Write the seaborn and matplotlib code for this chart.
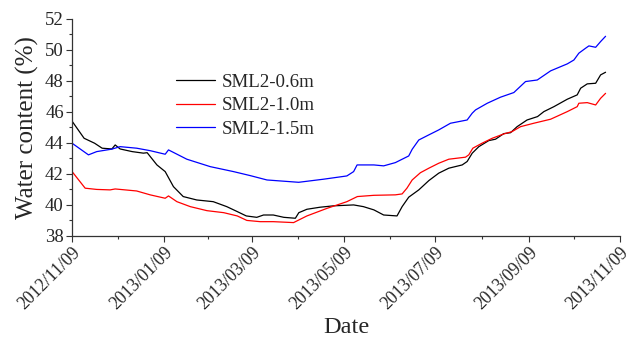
import numpy as np
import pandas as pd
import matplotlib
matplotlib.use("Agg")
import matplotlib.pyplot as plt
import matplotlib.dates as mdates
import seaborn as sns

# Soil water content at three depths, SML2 monitoring site
start_date = "2012-11-09"

days_06 = [0, 8, 15, 20, 26.5, 28.7, 32, 40, 47.5, 50, 56.5, 62, 67.5, 74, 83, 94,
           103, 110, 116, 123, 127.5, 134, 141, 148.7, 151, 156.4, 165, 174, 187.5,
           194, 201, 207.5, 216.4, 219.8, 224.2, 230.9, 237.6, 244.2, 250.9, 259.8,
           263.1, 266.5, 270.9, 277.5, 282, 287.5, 292, 296.4, 303, 310, 314.2,
           320.9, 329.8, 336.4, 338.7, 343.1, 348.7, 352, 355.3]
wc_06 = [45.4, 44.3, 43.98, 43.66, 43.61, 43.87, 43.61, 43.44, 43.34, 43.37, 42.58,
         42.15, 41.18, 40.54, 40.32, 40.21, 39.89, 39.57, 39.29, 39.2, 39.35, 39.35,
         39.2, 39.14, 39.5, 39.72, 39.85, 39.94, 40.0, 39.89, 39.68, 39.35, 39.29,
         39.89, 40.5, 40.97, 41.57, 42.05, 42.37, 42.58, 42.8, 43.34, 43.76, 44.15,
         44.24, 44.6, 44.66, 45.05, 45.48, 45.7, 46.02, 46.34, 46.82, 47.1, 47.53,
         47.81, 47.85, 48.39, 48.56]

days_10 = [0, 8.7, 16.4, 25.3, 28.7, 43, 52, 62, 64.2, 69.8, 78.7, 89.8, 101, 110,
           116.4, 125.3, 134, 147.5, 156.4, 169.8, 183, 190, 201, 215.3, 219.8, 223,
           226.5, 232, 237.6, 244.2, 250.9, 262, 264.2, 266.9, 273, 279.8, 287.5, 293,
           298.7, 307.5, 318.7, 329.8, 336.4, 337.5, 343.1, 348.7, 352, 355.3]
wc_10 = [42.15, 41.08, 41.0, 40.97, 41.03, 40.9, 40.65, 40.43, 40.58, 40.21, 39.89,
         39.63, 39.5, 39.29, 39.0, 38.92, 38.92, 38.86, 39.29, 39.78, 40.21, 40.54,
         40.62, 40.65, 40.71, 41.08, 41.61, 42.08, 42.37, 42.69, 42.95, 43.08, 43.23,
         43.66, 43.98, 44.3, 44.58, 44.73, 45.05, 45.27, 45.53, 46.02, 46.34, 46.56,
         46.6, 46.45, 46.88, 47.2]

days_15 = [0, 10.9, 16.4, 26.5, 32, 43, 52, 62, 64.2, 76.4, 92, 107.5, 118.7, 129.8,
           150.9, 167.5, 183, 187.5, 189.8, 201, 207.5, 215.3, 224.2, 226.5, 230.9,
           237.6, 244.2, 252, 263.1, 266.5, 268.7, 276.5, 285.3, 294.2, 302, 309.8,
           318.7, 329.8, 334.2, 337.5, 342, 344.2, 348.7, 352, 355.3]
wc_15 = [43.98, 43.23, 43.44, 43.6, 43.76, 43.66, 43.5, 43.27, 43.55, 42.95, 42.47,
         42.15, 41.89, 41.61, 41.46, 41.66, 41.87, 42.15, 42.58, 42.58, 42.52, 42.73,
         43.16, 43.59, 44.19, 44.52, 44.84, 45.27, 45.48, 45.92, 46.13, 46.56, 46.95,
         47.25, 47.96, 48.06, 48.65, 49.1, 49.35, 49.79, 50.11, 50.26, 50.17, 50.54,
         50.88]

series_names = ["SML2-0.6m", "SML2-1.0m", "SML2-1.5m"]
series_colors = ["#000000", "#ff0000", "#0000ff"]
tick_dates = ["2012-11-09", "2013-01-09", "2013-03-09", "2013-05-09",
              "2013-07-09", "2013-09-09", "2013-11-09"]
tick_labels = ["2012/11/09", "2013/01/09", "2013/03/09", "2013/05/09",
               "2013/07/09", "2013/09/09", "2013/11/09"]

t0 = pd.Timestamp(start_date)
frames = []
for name, d, v in zip(series_names, [days_06, days_10, days_15], [wc_06, wc_10, wc_15]):
    frames.append(pd.DataFrame({
        "Date": t0 + pd.to_timedelta(np.array(d), unit="D"),
        "wc": v,
        "Depth": name,
    }))
df = pd.concat(frames, ignore_index=True)

sns.set_style("ticks")
plt.rcParams["font.family"] = ["Liberation Serif", "DejaVu Serif"]

fig = plt.figure(figsize=(6.38, 3.38), dpi=100)
ax = fig.add_axes([0.113, 0.302, 0.859, 0.642])

sns.lineplot(data=df, x="Date", y="wc", hue="Depth", hue_order=series_names,
             palette=series_colors, linewidth=0.9, ax=ax, estimator=None, sort=False)

# Axes limits and ticks
ticks = pd.to_datetime(tick_dates)
ax.set_xlim(ticks[0], ticks[-1])
ax.set_ylim(38, 52)
ax.set_xticks(ticks)
ax.set_xticklabels(tick_labels, rotation=45, ha="right", rotation_mode="anchor",
                   fontsize=12.8)
tick_nums = mdates.date2num(ticks)
ax.set_xticks((tick_nums[:-1] + tick_nums[1:]) / 2, minor=True)
ax.set_yticks(np.arange(38, 53, 2))
ax.set_yticks(np.arange(39, 52, 2), minor=True)
ax.tick_params(axis="y", labelsize=13.5)
ax.tick_params(which="major", direction="out", length=4, width=0.8, color="#333333",
               pad=2)
ax.tick_params(which="minor", direction="out", length=2.5, width=0.8, color="#333333")
for side in ["left", "bottom"]:
    ax.spines[side].set_linewidth(0.9)
    ax.spines[side].set_color("#333333")
sns.despine(ax=ax)

ax.set_xlabel("Date", fontsize=17.5, labelpad=3)
ax.set_ylabel("Water content (%)", fontsize=18, labelpad=4)

leg = ax.legend(loc="upper left", bbox_to_anchor=(0.176, 0.783), frameon=False,
                fontsize=13.6, handlelength=2.05, handletextpad=0.35,
                labelspacing=0.33, borderaxespad=0)
for line in leg.get_lines():
    line.set_linewidth(0.9)

fig.savefig("out.png", dpi=100)
